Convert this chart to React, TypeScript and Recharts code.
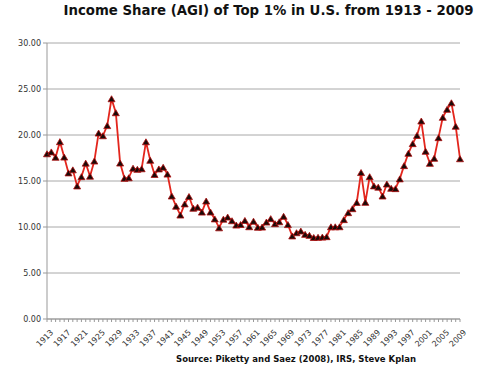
import React from "react";
import { LineChart, Line, XAxis, YAxis, CartesianGrid } from "recharts";

const years = [
  "1913","1914","1915","1916","1917","1918","1919","1920","1921","1922",
  "1923","1924","1925","1926","1927","1928","1929","1930","1931","1932",
  "1933","1934","1935","1936","1937","1938","1939","1940","1941","1942",
  "1943","1944","1945","1946","1947","1948","1949","1950","1951","1952",
  "1953","1954","1955","1956","1957","1958","1959","1960","1961","1962",
  "1963","1964","1965","1966","1967","1968","1969","1970","1971","1972",
  "1973","1974","1975","1976","1977","1978","1979","1980","1981","1982",
  "1983","1984","1985","1986","1987","1988","1989","1990","1991","1992",
  "1993","1994","1995","1996","1997","1998","1999","2000","2001","2002",
  "2003","2004","2005","2006","2007","2008","2009"
];

const shares = [
  17.96,18.16,17.58,19.27,17.6,15.88,16.21,14.46,15.47,16.94,
  15.52,17.17,20.21,19.92,21.02,23.94,22.42,16.95,15.29,15.35,
  16.39,16.27,16.33,19.26,17.25,15.71,16.31,16.49,15.75,13.37,
  12.26,11.3,12.51,13.31,12.04,12.16,11.62,12.82,11.63,10.88,
  9.91,10.85,11.08,10.68,10.21,10.27,10.71,10.03,10.63,9.97,
  9.99,10.54,10.91,10.36,10.57,11.16,10.26,9.03,9.38,9.56,
  9.2,9.09,8.86,8.88,8.9,8.95,10.02,10.02,10.03,10.8,
  11.56,11.99,12.67,15.92,12.68,15.47,14.47,14.33,13.37,14.67,
  14.21,14.17,15.23,16.67,18.01,19.06,19.95,21.52,18.23,16.92,
  17.47,19.71,21.92,22.79,23.5,20.95,17.42
];

const yTicks = [0, 5, 10, 15, 20, 25, 30];

const title = "Income Share (AGI) of Top 1% in U.S. from 1913 - 2009";
const source = "Source:  Piketty and Saez (2008), IRS, Steve Kplan";

const data = years.map((y, i) => ({ year: y, share: shares[i] }));

const TriangleDot = (props: any) => {
  const { cx, cy, index } = props;
  if (cx == null || cy == null) return <g key={index} />;
  const w = 3.5;
  const h = 6;
  return (
    <g key={index}>
      <polygon
        points={`${cx},${cy - h / 2} ${cx + w},${cy + h / 2} ${cx - w},${cy + h / 2}`}
        fill="#1a0a08"
        stroke="#b01010"
        strokeWidth={0.8}
      />
    </g>
  );
};

const XTick = (props: any) => {
  const { x, y, payload, index } = props;
  if (index % 4 !== 0) return <g />;
  return (
    <g transform={`translate(${x + 3},${y + 5})`}>
      <text
        x={0}
        y={0}
        textAnchor="end"
        transform="rotate(-45)"
        fontSize={8}
        fill="#333"
        fontFamily="DejaVu Sans, sans-serif"
        dominantBaseline="hanging"
      >
        {payload.value}
      </text>
    </g>
  );
};

export default function App() {
  return (
    <div style={{ position: "absolute", left: 0, top: 0, width: 488, height: 367, background: "#fff" }}>
      <div
        style={{
          position: "absolute",
          left: 0,
          top: 3,
          width: 537,
          textAlign: "center",
          fontFamily: "DejaVu Sans, sans-serif",
          fontWeight: "bold",
          fontSize: 13.3,
          color: "#111",
          whiteSpace: "nowrap",
        }}
      >
        {title}
      </div>
      <div
        style={{
          position: "absolute",
          left: 0,
          top: 354,
          width: 592,
          textAlign: "center",
          fontFamily: "DejaVu Sans, sans-serif",
          fontWeight: "bold",
          fontSize: 8.5,
          color: "#111",
          whiteSpace: "nowrap",
        }}
      >
        {source}
      </div>
      <LineChart
        width={488}
        height={367}
        data={data}
        margin={{ top: 43, right: 28, bottom: 8, left: 7 }}
        style={{ position: "absolute", left: 0, top: 0 }}
      >
        <CartesianGrid vertical={false} stroke="#a8a8a8" strokeWidth={1} />
        <XAxis
          dataKey="year"
          interval={0}
          height={40}
          tick={<XTick />}
          tickSize={3}
          tickLine={{ stroke: "#999" }}
          axisLine={{ stroke: "#999" }}
        />
        <YAxis
          domain={[0, 30]}
          ticks={yTicks}
          width={40}
          tickFormatter={(v: number) => v.toFixed(2)}
          tick={{ fontSize: 8, fill: "#333", fontFamily: "DejaVu Sans, sans-serif" }}
          tickSize={4}
          tickLine={{ stroke: "#999" }}
          axisLine={{ stroke: "#999" }}
        />
        <Line
          type="linear"
          dataKey="share"
          stroke="#e3261d"
          strokeWidth={1.8}
          dot={<TriangleDot />}
          activeDot={false}
          isAnimationActive={false}
        />
      </LineChart>
    </div>
  );
}
